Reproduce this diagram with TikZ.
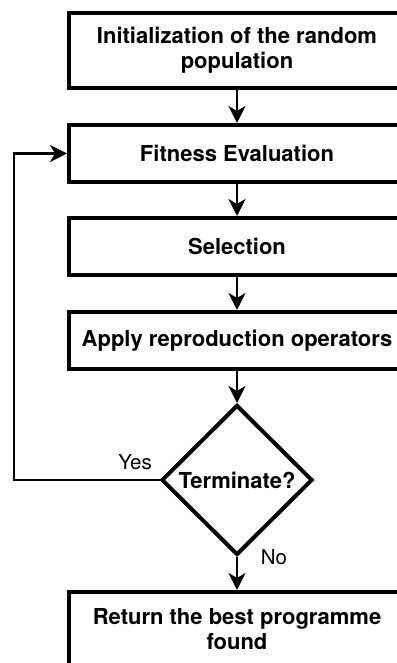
\documentclass[tikz,border=0pt]{standalone}
\usepackage{fontspec}
\setmainfont{TeX Gyre Heros}
\usetikzlibrary{shapes.geometric,arrows.meta}
\begin{document}
\begin{tikzpicture}[x=1pt,y=1pt,
  procbox/.style={draw,line width=4pt,minimum width=336pt,inner sep=0pt,align=center,font=\fontsize{22}{25}\selectfont\bfseries},
  decision/.style={draw,diamond,line width=4pt,minimum width=151pt,minimum height=150pt,inner sep=0pt,font=\fontsize{22}{25}\selectfont\bfseries},
  conn/.style={line width=2.2pt,-{Stealth[length=17pt,width=17pt,inset=5pt]}},
  lbl/.style={font=\fontsize{20.5}{24}\selectfont}]
\useasboundingbox (0,0) rectangle (396,663);
\fill[white] (0,0) rectangle (396,663);
\node[procbox,minimum height=75pt] (init) at (237,612.5) {Initialization of the random\\population};
\node[procbox,minimum height=57pt] (fit) at (237,509.5) {Fitness Evaluation};
\node[procbox,minimum height=57pt] (sel) at (237,416.5) {Selection};
\node[procbox,minimum height=57pt] (rep) at (237,322.5) {Apply reproduction operators};
\node[decision] (term) at (237,183) {Terminate?};
\node[procbox,minimum height=75pt] (ret) at (237,33.5) {Return the best programme\\found};
\coordinate (c1) at (14,183);
\coordinate (c2) at (14,509.5);
\draw[conn] (init) -- (fit);
\draw[conn] (fit) -- (sel);
\draw[conn] (sel) -- (rep);
\draw[conn] (rep) -- (term);
\draw[conn] (term) -- (ret);
\draw[conn] (term.west) -- (c1) -- (c2) -- (fit.west);
\node[lbl] (yes) at (135,201) {Yes};
\node[lbl] (no) at (274,106) {No};
\end{tikzpicture}
\end{document}
